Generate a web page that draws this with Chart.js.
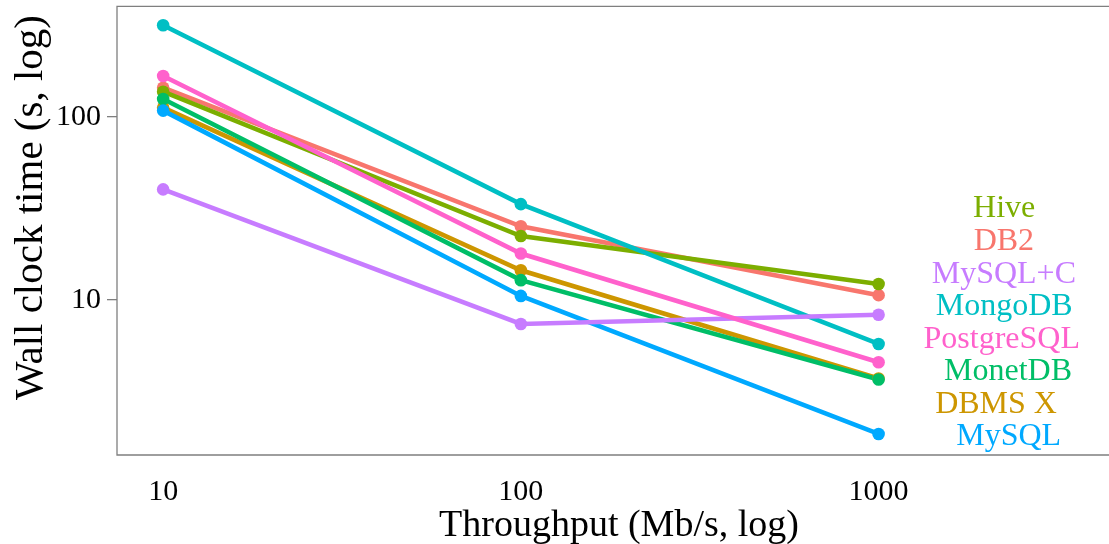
<!DOCTYPE html>
<html><head><meta charset="utf-8">
<script src="https://cdn.jsdelivr.net/npm/chart.js@4.4.1/dist/chart.umd.min.js"></script>
<style>html,body{margin:0;padding:0;background:#fff}#wrap{width:1109px;height:544px;position:relative}</style>
</head><body><div id="wrap"><canvas id="c" width="1109" height="544"></canvas></div>
<script>
// x categories (throughput, Mb/s)
const throughput = [10, 100, 1000];
// series (wall clock time, s)
const seriesNames = ['DB2', 'DBMS X', 'Hive', 'MonetDB', 'MongoDB', 'MySQL', 'MySQL+C', 'PostgreSQL'];
const db2        = [144, 25.2, 10.6];
const dbmsx      = [112, 14.5, 3.72];
const hive       = [137, 22.3, 12.2];
const monetdb    = [125, 12.8, 3.67];
const mongodb    = [316, 33.3, 5.74];
const mysql      = [108, 10.5, 1.85];
const mysqlc     = [40.1, 7.38, 8.28];
const postgresql = [167, 17.9, 4.56];
const seriesColors = ['#F8766D', '#CD9600', '#7CAE00', '#00BE67', '#00BFC4', '#00A9FF', '#C77CFF', '#FF61CC'];
// tick labels
const xTicks = [10, 100, 1000];
const yTicks = [10, 100];
// direct labels (order as shown at right of plot)
const labelNames = ['Hive', 'DB2', 'MySQL+C', 'MongoDB', 'PostgreSQL', 'MonetDB', 'DBMS X', 'MySQL'];

const allSeries = [db2, dbmsx, hive, monetdb, mongodb, mysql, mysqlc, postgresql];
const FONT = "'Liberation Serif', 'DejaVu Serif', serif";

const datasets = [];
allSeries.forEach((s, i) => {
  const pts = throughput.map((x, j) => ({x: x, y: s[j]}));
  datasets.push({label: seriesNames[i], data: pts, borderColor: seriesColors[i], backgroundColor: seriesColors[i],
    borderWidth: 4.6, pointRadius: 0, fill: false, tension: 0, order: 100 + (8 - i)});
});
allSeries.forEach((s, i) => {
  const pts = throughput.map((x, j) => ({x: x, y: s[j]}));
  datasets.push({label: seriesNames[i] + ' pts', data: pts, borderColor: seriesColors[i], backgroundColor: seriesColors[i],
    showLine: false, pointRadius: 6.3, pointBorderWidth: 0, order: 8 - i});
});

const decor = {
  id: 'decor',
  afterDraw(chart, args, opts) {
    const ctx = chart.ctx, a = chart.chartArea;
    const xs = chart.scales.x, ys = chart.scales.y;
    ctx.save();
    // panel border (top, left, bottom; panel runs off right edge)
    ctx.strokeStyle = '#7f7f7f';
    ctx.lineWidth = 1.3;
    ctx.beginPath();
    ctx.moveTo(chart.width, a.top); ctx.lineTo(a.left, a.top); ctx.lineTo(a.left, a.bottom); ctx.lineTo(chart.width, a.bottom);
    ctx.stroke();
    // direct labels
    ctx.font = '32px ' + FONT;
    ctx.textAlign = 'center';
    ctx.textBaseline = 'middle';
    opts.labels.forEach((l) => {
      const i = seriesNames.indexOf(l.name);
      ctx.fillStyle = seriesColors[i];
      ctx.fillText(l.name, xs.getPixelForValue(l.x), ys.getPixelForValue(l.y));
    });
    // axis titles
    ctx.fillStyle = '#000';
    ctx.font = '38px ' + FONT;
    ctx.textBaseline = 'alphabetic';
    ctx.fillText('Throughput (Mb/s, log)', 619, 536);
    ctx.save();
    ctx.translate(42, 207.5);
    ctx.rotate(-Math.PI / 2);
    ctx.font = '41px ' + FONT;
    ctx.fillText('Wall clock time (s, log)', 0, 0);
    ctx.restore();
    ctx.restore();
  }
};

new Chart(document.getElementById('c'), {
  type: 'line',
  data: {datasets: datasets},
  options: {
    responsive: false,
    animation: false,
    devicePixelRatio: 1,
    layout: {padding: {top: 2, right: 0, left: 0, bottom: 0}},
    plugins: {
      legend: {display: false},
      tooltip: {enabled: false},
      decor: {
        labels: [
          {name: 'Hive', x: 2245, y: 31.6},
          {name: 'DB2', x: 2240, y: 20.8},
          {name: 'MySQL+C', x: 2240, y: 13.7},
          {name: 'MongoDB', x: 2245, y: 9.18},
          {name: 'PostgreSQL', x: 2210, y: 6.06},
          {name: 'MonetDB', x: 2300, y: 4.07},
          {name: 'DBMS X', x: 2130, y: 2.69},
          {name: 'MySQL', x: 2310, y: 1.78}
        ]
      }
    },
    scales: {
      x: {
        type: 'logarithmic',
        position: 'bottom',
        min: 7.43,
        max: 4232,
        afterBuildTicks: (sc) => { sc.ticks = xTicks.map(v => ({value: v})); },
        afterFit: (sc) => { sc.height = 89; sc.paddingLeft = 0; sc.paddingRight = 0; },
        ticks: {
          callback: (v) => String(v),
          font: {family: FONT, size: 30},
          color: '#000',
          maxRotation: 0, autoSkip: false, padding: 11
        },
        grid: {display: false},
        border: {display: false}
      },
      y: {
        type: 'logarithmic',
        position: 'left',
        min: 1.42,
        max: 401,
        afterBuildTicks: (sc) => { sc.ticks = yTicks.map(v => ({value: v})); },
        afterFit: (sc) => { sc.width = 117; sc.paddingTop = 0; sc.paddingBottom = 0; },
        ticks: {
          callback: (v) => String(v),
          font: {family: FONT, size: 30},
          color: '#000',
          autoSkip: false, padding: 6
        },
        grid: {display: true, drawOnChartArea: false, drawTicks: true, tickLength: 10, color: '#7f7f7f', lineWidth: 1.3},
        border: {display: false}
      }
    }
  },
  plugins: [decor]
});
</script>
</body></html>
